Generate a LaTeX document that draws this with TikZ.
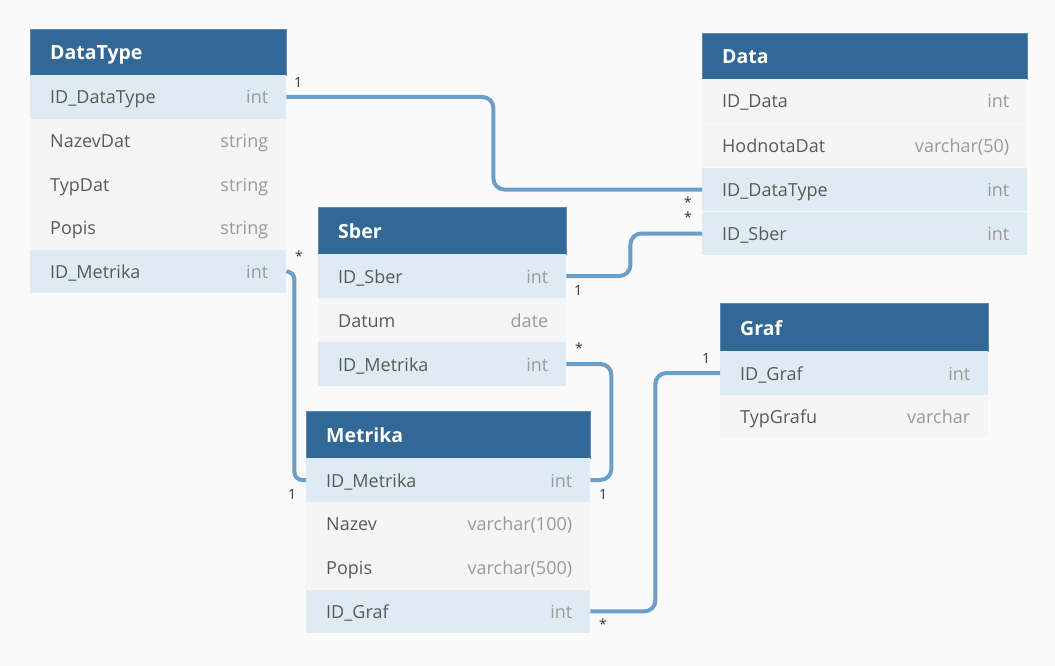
\documentclass[tikz,border=0pt]{standalone}
\usepackage{fontspec}
\setmainfont{Open Sans}
\definecolor{bg}{HTML}{FAFAFA}
\definecolor{hdr}{HTML}{316896}
\definecolor{hdrline}{HTML}{5A88B0}
\definecolor{keyrow}{HTML}{DEEBF3}
\definecolor{plainrow}{HTML}{F5F5F5}
\definecolor{fieldcol}{HTML}{5A5A5A}
\definecolor{typecol}{HTML}{9A9A9A}
\definecolor{linkcol}{HTML}{6A9FCC}
\definecolor{cardcol}{HTML}{333333}
\tikzset{
  x=1pt, y=-1pt,
  rowbox/.style={rectangle, inner sep=0pt, minimum height=43.6pt, anchor=north west, draw=none},
  keybox/.style={rowbox, fill=keyrow},
  plainbox/.style={rowbox, fill=plainrow},
  hdrbox/.style={rectangle, inner sep=0pt, anchor=north west, fill=hdr, draw=hdrline, line width=0.8pt},
  fieldtxt/.style={inner sep=0pt, anchor=base west, text=fieldcol, font=\fontsize{18}{20}\selectfont},
  typetxt/.style={inner sep=0pt, anchor=base east, text=typecol, font=\fontsize{18}{20}\selectfont},
  hdrtxt/.style={inner sep=0pt, anchor=base west, text=white, font=\fontsize{19.5}{22}\selectfont\bfseries},
  conn/.style={draw=linkcol, line width=4pt, rounded corners=11pt},
  card/.style={inner sep=0pt, text=cardcol, font=\fontsize{14}{16}\selectfont},
}
% #1 name, #2 x, #3 y top, #4 width, #5 style, #6 field, #7 type
\newcommand{\erow}[7]{%
  \node[#5, minimum width=#4pt] (#1) at (#2,#3) {};
  \node[fieldtxt] (#1-f) at ([xshift=20pt]#1.north west |- 0,#3+29) {#6};
  \node[typetxt] (#1-t) at ([xshift=-18pt]#1.north east |- 0,#3+29) {#7};
}
% #1 name, #2 x, #3 y, #4 width, #5 height, #6 title
\newcommand{\ehead}[6]{%
  \node[hdrbox, minimum width=#4pt, minimum height=#5pt] (#1) at (#2,#3) {};
  \node[hdrtxt] (#1-title) at ([xshift=20pt]#1.north west |- 0,#3+#5-15.5) {#6};
}
\begin{document}
\begin{tikzpicture}
\fill[bg] (0,0) rectangle (1055,666);
\useasboundingbox (0,0) rectangle (1055,666);

% DataType
\ehead{dt}{30}{29}{256}{46}{DataType}
\erow{dt-r1}{30}{75}{256}{keybox}{ID\_DataType}{int}
\erow{dt-r2}{30}{118.6}{256}{plainbox}{NazevDat}{string}
\erow{dt-r3}{30}{162.2}{256}{plainbox}{TypDat}{string}
\erow{dt-r4}{30}{205.8}{256}{plainbox}{Popis}{string}
\erow{dt-r5}{30}{249.4}{256}{keybox}{ID\_Metrika}{int}

% Data
\ehead{data}{702}{33}{325}{46}{Data}
\erow{data-r1}{702}{79}{325}{plainbox}{ID\_Data}{int}
\erow{data-r2}{702}{123.5}{325}{plainbox}{HodnotaDat}{varchar(50)}
\erow{data-r3}{702}{167.5}{325}{keybox}{ID\_DataType}{int}
\erow{data-r4}{702}{211.5}{325}{keybox}{ID\_Sber}{int}

% Sber
\ehead{sber}{318}{207}{248}{47}{Sber}
\erow{sber-r1}{318}{254}{248}{keybox}{ID\_Sber}{int}
\erow{sber-r2}{318}{298}{248}{plainbox}{Datum}{date}
\erow{sber-r3}{318}{342}{248}{keybox}{ID\_Metrika}{int}

% Graf
\ehead{graf}{720}{303}{268}{48}{Graf}
\erow{graf-r1}{720}{351}{268}{keybox}{ID\_Graf}{int}
\erow{graf-r2}{720}{394.6}{268}{plainbox}{TypGrafu}{varchar}

% Metrika
\ehead{met}{306}{411}{284}{47}{Metrika}
\erow{met-r1}{306}{458}{284}{keybox}{ID\_Metrika}{int}
\erow{met-r2}{306}{501.8}{284}{plainbox}{Nazev}{varchar(100)}
\erow{met-r3}{306}{545.6}{284}{plainbox}{Popis}{varchar(500)}
\erow{met-r4}{306}{589.4}{284}{keybox}{ID\_Graf}{int}

% connectors
\draw[conn] (dt-r1.east) -- ++(207,0) |- (data-r3.west);
\draw[conn] (sber-r1.east) -- ++(64,0) |- (data-r4.west);
\draw[conn, rounded corners=8pt] (dt-r5.east) -- ++(8,0) |- (met-r1.west);
\draw[conn] (sber-r3.east) -- ++(45,0) |- (met-r1.east);
\draw[conn] (met-r4.east) -- ++(65,0) |- (graf-r1.west);

% cardinalities
\node[card] (c1) at (298,83) {1};
\node[card] (c2) at (688,202) {*};
\node[card] (c3) at (688,217) {*};
\node[card] (c4) at (578,291) {1};
\node[card] (c5) at (299,256) {*};
\node[card] (c6) at (292,494) {1};
\node[card] (c7) at (579,348) {*};
\node[card] (c8) at (603,494) {1};
\node[card] (c9) at (603,624) {*};
\node[card] (c10) at (706,359) {1};
\end{tikzpicture}
\end{document}
